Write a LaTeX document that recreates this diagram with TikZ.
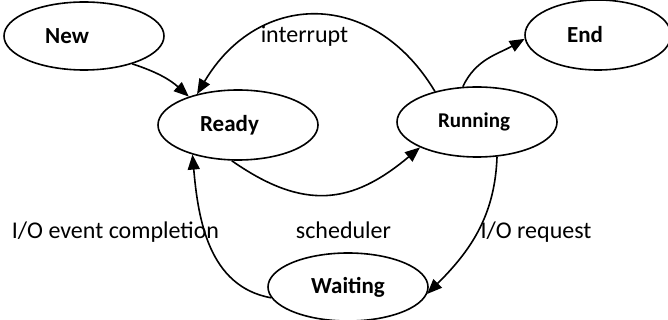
\documentclass[tikz,border=0pt]{standalone}
\usepackage{fontspec}
\setmainfont{Carlito}
\usetikzlibrary{shapes.geometric,arrows.meta}
\tikzset{
  st/.style={draw, ellipse, line width=1.6pt, inner sep=0pt, font=\fontsize{23}{27}\selectfont\bfseries},
  conn/.style={line width=1.6pt, -{Triangle[length=15pt,width=12pt]}},
  lbl/.style={font=\fontsize{24}{28}\selectfont, anchor=base, inner sep=0pt}
}
\begin{document}
\begin{tikzpicture}[x=1pt,y=1pt]
\useasboundingbox (0,0) rectangle (668,-320);
\node[st, minimum width=160pt, minimum height=68pt] (new) at (84,-36) {\hspace*{-34pt}New};
\node[st, minimum width=160pt, minimum height=70pt] (ready) at (238,-125) {\hspace*{-17pt}Ready};
\node[st, minimum width=160pt, minimum height=70pt, font=\fontsize{21}{25}\selectfont\bfseries] (run) at (477,-122) {\hspace*{-6pt}Running};
\node[st, minimum width=146pt, minimum height=70pt] (end) at (598,-35) {\hspace*{-26pt}End};
\node[st, minimum width=160pt, minimum height=68pt] (wait) at (348,-287) {Waiting};

\draw[conn] (new.-30) to[bend left=12] (ready.150);
\draw[conn] (run.144) .. controls (373,12) and (258,9) .. (ready.143);
\draw[conn] (run.112) to[out=65, in=-150] (end.183);
\draw[conn] (ready.-100) to[out=-35, in=-140, looseness=1.2] (run.-156);
\draw[conn] (run.-60) to[out=-92, in=45] (wait.-5);
\draw[conn] (wait.188) to[out=170, in=-85] (ready.-147);

\node[lbl] (lint) at (304.5,-43) {interrupt};
\node[lbl] (lio) at (115.5,-238) {I/O event completion};
\node[lbl] (lsch) at (343.5,-238) {scheduler};
\node[lbl] (lreq) at (536,-238) {I/O request};
\end{tikzpicture}
\end{document}
